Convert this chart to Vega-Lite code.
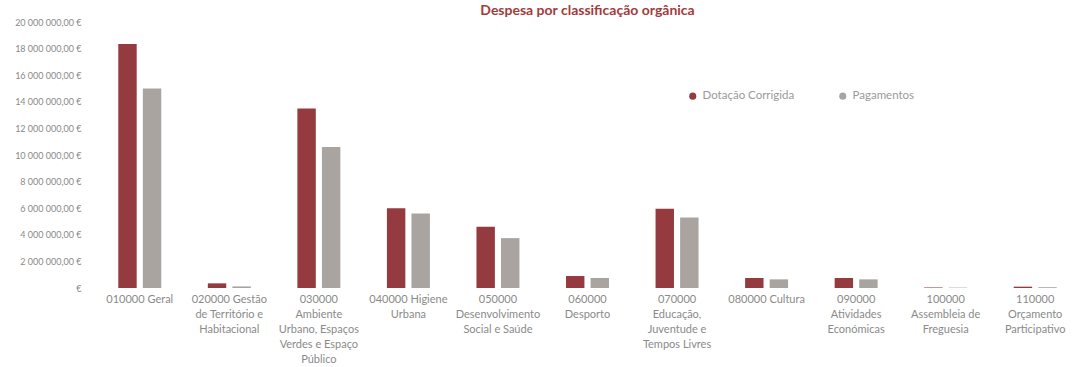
{
  "$schema": "https://vega.github.io/schema/vega-lite/v6.json",
  "width": 985,
  "height": 266,
  "autosize": "none",
  "padding": {"left": 95, "top": 22, "right": 0, "bottom": 79},
  "background": "white",
  "title": {
    "text": "Despesa por classificação orgânica",
    "font": "Lato",
    "fontSize": 14,
    "fontWeight": "bold",
    "color": "#a33a3c",
    "anchor": "middle",
    "offset": 0
  },
  "data": {
    "values": [
      {"org": "010000 Geral", "serie": "Dotação Corrigida", "valor": 18350000},
      {"org": "010000 Geral", "serie": "Pagamentos", "valor": 15000000},
      {"org": "020000 Gestão|de Território e|Habitacional", "serie": "Dotação Corrigida", "valor": 350000},
      {"org": "020000 Gestão|de Território e|Habitacional", "serie": "Pagamentos", "valor": 120000},
      {"org": "030000|Ambiente|Urbano, Espaços|Verdes e Espaço|Público", "serie": "Dotação Corrigida", "valor": 13500000},
      {"org": "030000|Ambiente|Urbano, Espaços|Verdes e Espaço|Público", "serie": "Pagamentos", "valor": 10600000},
      {"org": "040000 Higiene|Urbana", "serie": "Dotação Corrigida", "valor": 6000000},
      {"org": "040000 Higiene|Urbana", "serie": "Pagamentos", "valor": 5600000},
      {"org": "050000|Desenvolvimento|Social e Saúde", "serie": "Dotação Corrigida", "valor": 4600000},
      {"org": "050000|Desenvolvimento|Social e Saúde", "serie": "Pagamentos", "valor": 3750000},
      {"org": "060000|Desporto", "serie": "Dotação Corrigida", "valor": 900000},
      {"org": "060000|Desporto", "serie": "Pagamentos", "valor": 750000},
      {"org": "070000|Educação,|Juventude e|Tempos Livres", "serie": "Dotação Corrigida", "valor": 5950000},
      {"org": "070000|Educação,|Juventude e|Tempos Livres", "serie": "Pagamentos", "valor": 5300000},
      {"org": "080000 Cultura", "serie": "Dotação Corrigida", "valor": 750000},
      {"org": "080000 Cultura", "serie": "Pagamentos", "valor": 650000},
      {"org": "090000|Atividades|Económicas", "serie": "Dotação Corrigida", "valor": 750000},
      {"org": "090000|Atividades|Económicas", "serie": "Pagamentos", "valor": 650000},
      {"org": "100000|Assembleia de|Freguesia", "serie": "Dotação Corrigida", "valor": 40000},
      {"org": "100000|Assembleia de|Freguesia", "serie": "Pagamentos", "valor": 30000},
      {"org": "110000|Orçamento|Participativo", "serie": "Dotação Corrigida", "valor": 100000},
      {"org": "110000|Orçamento|Participativo", "serie": "Pagamentos", "valor": 60000}
    ]
  },
  "mark": {"type": "bar"},
  "encoding": {
    "x": {
      "field": "org",
      "type": "nominal",
      "sort": null,
      "scale": {"paddingInner": 0.52, "paddingOuter": 0.26},
      "axis": {
        "title": null,
        "labelAngle": 0,
        "labelExpr": "split(datum.value, '|')",
        "labelFont": "Lato",
        "labelFontSize": 11,
        "labelColor": "#8a8a8a",
        "labelLineHeight": 15,
        "labelBaseline": "top",
        "labelPadding": 5,
        "labelLimit": 96,
        "domain": false,
        "ticks": false
      }
    },
    "xOffset": {"field": "serie", "type": "nominal", "scale": {"paddingInner": 0.25}},
    "y": {
      "field": "valor",
      "type": "quantitative",
      "scale": {"domain": [0, 20000000]},
      "axis": {
        "title": null,
        "values": [0, 2000000, 4000000, 6000000, 8000000, 10000000, 12000000, 14000000, 16000000, 18000000, 20000000],
        "labelExpr": "datum.value == 0 ? '€' : replace(format(datum.value, ',.0f'), /,/g, ' ') + ',00 €'",
        "labelFont": "Lato",
        "labelFontSize": 9,
        "labelColor": "#8a8a8a",
        "labelPadding": 14,
        "domain": false,
        "ticks": false,
        "grid": false
      }
    },
    "color": {
      "field": "serie",
      "type": "nominal",
      "scale": {"domain": ["Dotação Corrigida", "Pagamentos"], "range": ["#953a3f", "#aaa4a0"]},
      "legend": {
        "title": null,
        "orient": "none",
        "legendX": 592,
        "legendY": 68,
        "direction": "horizontal",
        "symbolType": "circle",
        "symbolSize": 50,
        "labelFont": "Lato",
        "labelFontSize": 11.5,
        "labelColor": "#9a9a9a",
        "columnPadding": 42
      }
    }
  },
  "config": {"view": {"stroke": null}}
}
